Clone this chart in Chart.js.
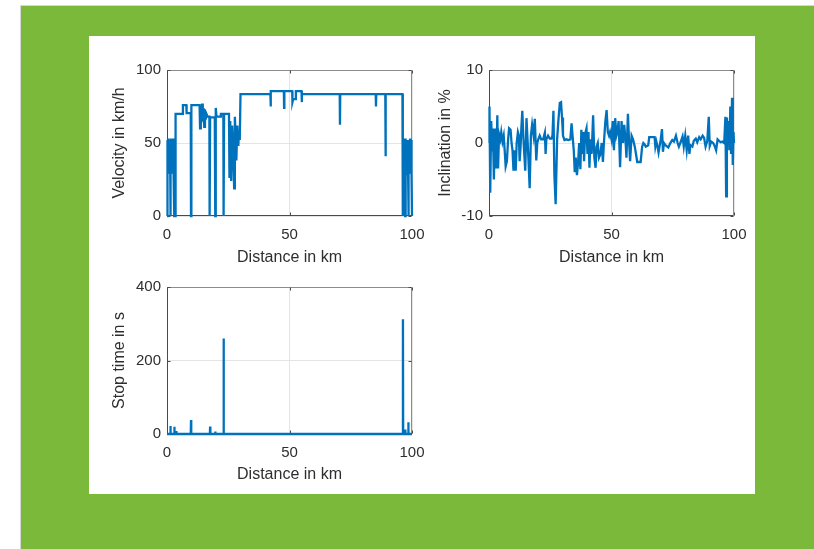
<!DOCTYPE html>
<html>
<head>
<meta charset="utf-8">
<script src="https://cdn.jsdelivr.net/npm/chart.js@4.4.1/dist/chart.umd.min.js"></script>
<style>
  html, body { margin: 0; padding: 0; background: #fff; }
  #frame { position: absolute; left: 20px; top: 5px; width: 794px; height: 544px; background: #7bb93a;
           border-top: 1px solid #d6d6d6; border-left: 1px solid #d6d6d6; box-sizing: border-box; }
  #sheet { position: absolute; left: 89px; top: 36px; width: 666px; height: 458px; background: #fff; }
  canvas { position: absolute; }
</style>
</head>
<body>
<div id="frame"></div>
<div id="sheet"></div>
<canvas id="velocity" style="left:100px;top:60px" width="326" height="222"></canvas>
<canvas id="inclination" style="left:420px;top:60px" width="330" height="222"></canvas>
<canvas id="stops" style="left:100px;top:277px" width="326" height="222"></canvas>
<script>
// axis ticks
const distanceTicks = [0, 50, 100];
const velocityTicks = [0, 50, 100];
const inclinationTicks = [-10, 0, 10];
const stopTicks = [0, 200, 400];

// velocity profile along the route
const velocityKm = [0, 0.05, 0.15, 0.25, 0.35, 0.45, 0.55, 0.65, 0.75, 0.85, 0.95, 1.05, 1.15, 1.25, 1.35,
  1.45, 1.55, 1.65, 1.75, 1.85, 1.95, 2.05, 2.15, 2.25, 2.35, 2.45, 2.55, 2.65, 2.8, 2.95, 3.05, 3.15, 3.25,
  3.4, 3.5,
  6.4, 6.5, 7.9, 8.0, 9.7, 9.8, 9.95, 13.3, 13.5, 13.8, 14.0, 14.3, 14.6, 14.9, 15.2, 15.5, 15.8, 16.1, 16.6,
  17.3, 17.4, 17.6, 19.5, 19.7, 19.9, 20.2, 21.8, 22.0, 23.0, 23.1, 23.3, 25.3, 25.5, 25.8, 26.2, 26.6, 27.0,
  27.4, 27.7, 28.0, 28.3, 28.7, 29.1, 29.4, 29.7, 30.0, 42.2, 42.3, 42.4, 47.7, 47.8, 47.9, 51.1, 51.2, 51.5,
  52.4, 52.6, 54.9, 55.0, 55.1, 70.5, 70.6, 70.7, 85.2, 85.3, 85.4, 89.1, 89.2, 89.3, 96.1,
  96.2, 96.3, 96.4, 96.5, 96.6, 96.7, 96.8, 96.9, 97.0, 97.1, 97.2, 97.3, 97.4, 97.5, 97.6, 97.7, 97.8,
  97.9, 98.0, 98.1, 98.2, 98.3, 98.4, 98.5, 98.6, 98.7, 98.8, 98.9, 99.0, 99.1, 99.2, 99.3, 99.4, 99.5,
  99.6, 99.7, 99.8, 99.9, 100];
const velocityKmh = [0, 48, 30, 52, 28, 50, 31, 53, 29, 51, 33, 52, 30, 50, 0,
  48, 31, 53, 30, 51, 34, 52, 29, 50, 32, 53, 30, 49, 31, 0, 50, 30, 52,
  0, 70,
  70, 76, 76, 70.5, 70.5, 0, 76, 76, 60, 75, 64, 77, 65, 74, 61, 73, 66, 70, 68,
  68, 0, 67.5, 67.5, 0, 74, 68, 68, 70, 70, 0, 70, 70, 26, 65, 24, 62, 48,
  19, 68, 55, 38, 62, 48, 58, 52, 83.5, 83.5, 75, 85.5, 85.5, 74, 85.5, 85.5, 78, 80,
  80, 85.5, 85.5, 78, 83.5, 83.5, 62.5, 83.5, 83.5, 75, 83.5, 83.5, 41, 83.5, 83.5,
  0, 52, 30, 53, 28, 50, 32, 52, 30, 48, 0, 50, 29, 53, 31, 51, 28,
  52, 33, 50, 30, 52, 31, 0, 48, 30, 52, 29, 50, 33, 53, 30, 49, 31,
  52, 29, 47, 30, 0];

// road inclination
const inclinationKm = [0, 0.2, 0.5, 0.9, 1.3, 1.6, 2.0, 2.4, 2.8, 3.2, 3.4, 3.7, 4.1, 4.6, 5.0, 5.5, 6.0, 6.4,
  6.8, 7.3, 7.8, 8.2, 8.8, 9.2, 9.6, 10.0, 10.5, 10.9, 11.3, 11.8, 12.2, 12.5, 12.9, 13.2, 13.6, 14.0, 14.4,
  14.8, 15.3, 15.8, 16.2, 16.6, 17.1, 17.6, 18.2, 18.7, 19.3, 19.7, 20.1, 20.7, 21.3, 22.1, 22.8, 23.1, 23.4,
  24.1, 24.8, 25.5, 25.9, 26.3, 26.7, 27.2, 27.8, 28.3, 28.9, 29.4, 29.8, 30.2, 30.8, 31.6, 32.4, 33.2, 33.7,
  34.1, 34.6, 35.0, 35.4, 35.9, 36.4, 36.8, 37.3, 37.7, 38.1, 38.5, 38.8, 39.2, 39.8, 40.2, 40.6, 41.0, 41.4,
  41.9, 42.5, 43.0, 43.5, 43.9, 44.4, 44.9, 45.5, 46.0, 46.5, 46.9, 47.5, 48.0, 48.5, 49.0, 49.4, 50.0, 50.5,
  51.0, 51.5, 52.0, 52.4, 52.9, 53.5, 54.1, 54.7, 55.2, 55.7, 56.1, 56.7, 57.2, 57.6, 58.2, 58.8, 59.5, 60.0,
  60.5, 61.9, 62.5, 63.0, 63.5, 64.0, 65.0, 65.4, 67.6, 67.9, 68.3, 68.8, 69.2, 69.6, 70.1, 70.6, 71.0, 71.4,
  72.0, 73.2, 74.0, 74.8, 75.5, 76.3, 77.0, 77.5, 78.2, 79.0, 79.5, 80.1, 80.7, 81.3, 81.8, 82.2, 83.0, 83.6,
  84.4, 85.0, 85.8, 86.4, 87.2, 87.8, 88.4, 89.1, 89.7, 90.1, 90.7, 91.5, 92.1, 92.7, 93.3, 93.9, 94.6, 95.3,
  96.0, 96.5, 96.8, 97.1, 97.4, 97.8, 98.1, 98.5, 98.8, 99.2, 99.5, 99.8, 100];
const inclinationPct = [0, 5, -6.8, 3, -1, 2, -5, 2, -3.5, 0.5, 3.8, -3.5, 1.2, 0.5, 1.5, 0.2, 1, -1,
  -3.2, -2.5, 0.5, 2, 1.8, 0, -1, -3.8, -1, -3.8, 0, 1.5, 1, -2.5, -0.5, 2, 4.4, 1, -1.5,
  -3.8, 3.4, 0, -3, -6.2, 1, 2.5, 1, 3.3, -2.4, 0, 0.5, 1, 0.5, 0.5, 1.4, -1.5, 0.5,
  1, 0.6, 0.6, 1, 4.4, -4.5, -8.4, 0.5, 3, 5.5, 5.6, 3.5, 1, 0.4, 0.5, 0.4, 0.5, 2.7,
  1, -1, -4, -2, -4.4, -2.5, 0, -3.6, 1.8, -1.5, 1.5, -2.5, 1.2, 2, -1.5, 1.5, -3.4, 0.5,
  -1.5, 3.8, -2, -3.4, -0.5, 0, -2, -1.5, 0, -2.6, 0, 3, 4.5, 1.5, 1, 1.5, 0.5, 3,
  -1, 3.4, 1, 1.5, 3, -3.3, 3, 0, 2.5, 0.5, -2, 4, 0, -2.5, 1, 0.5, -0.5, -1.5,
  -2.6, -2.6, -0.5, 0, -0.2, -0.5, -0.3, 0.8, 0.8, -0.5, 0.2, -0.5, -1.3, -0.5, 0.5, 1.9, -1.2, 0,
  -0.3, -0.6, 0, 0.4, 0.2, 1, 0, -0.5, 0.1, 0.9, -0.5, 1, -1, 1, -1.5, -0.3, -0.5, 0.3,
  0.6, 0.1, 0.8, 0.5, 1, 0.7, -0.5, 0.3, 3.6, -0.4, 0.2, 0, -0.4, -1, 0.5, 0.3, 0.1, 0.2,
  0, 3.6, -7.3, 3.5, 0, 3, -1, 5, -1.5, 6.2, -3, 1.5, 0];

// stop durations
const stopKm = [0, 1.3, 1.4, 1.5, 2.9, 3.0, 3.1, 3.7, 3.8, 3.9, 9.7, 9.8, 9.9, 17.5, 17.6, 17.7, 19.6, 19.7, 19.8,
  23.0, 23.1, 23.2, 96.2, 96.3, 96.4, 97.1, 97.2, 97.3, 98.4, 98.5, 98.6, 100];
const stopSec = [0, 0, 22, 0, 0, 20, 0, 0, 8, 0, 0, 38, 0, 0, 20, 0, 0, 7, 0,
  0, 260, 0, 0, 312, 0, 0, 12, 0, 0, 32, 0, 0];

const BLUE = '#0072bd';
const TEXT = '#2e2e2e';
const GRID = '#e4e4e4';
const FAMILY = '"Liberation Sans", Arial, Helvetica, sans-serif';
const tickFont = { family: FAMILY, size: 15 };
const titleFont = { family: FAMILY, size: 16 };

// box around the axes with short inward tick marks on all four sides
const axesBox = {
  id: 'axesBox',
  beforeDatasetsDraw(chart) {
    const { ctx, chartArea: a, scales: { x, y } } = chart;
    const L = Math.round(a.left) + 0.5, R = Math.round(a.right) - 0.5;
    const T = Math.round(a.top) + 0.5, B = Math.round(a.bottom) - 0.5;
    const len = 3;
    const seg = (x1, y1, x2, y2) => { ctx.beginPath(); ctx.moveTo(x1, y1); ctx.lineTo(x2, y2); ctx.stroke(); };
    ctx.save();
    ctx.lineWidth = 1;
    ctx.strokeStyle = '#8c8c8c';
    seg(L, T, R, T);
    seg(R, T, R, B);
    ctx.strokeStyle = '#4a4a4a';
    seg(L, T, L, B);
    seg(L, B, R, B);
    x.ticks.forEach(t => {
      const px = Math.round(x.getPixelForValue(t.value)) + 0.5;
      seg(px, B, px, B - len);
      seg(px, T, px, T + len);
    });
    y.ticks.forEach(t => {
      const py = Math.round(y.getPixelForValue(t.value)) + 0.5;
      seg(L, py, L + len, py);
      seg(R, py, R - len, py);
    });
    ctx.restore();
  }
};

function makePlot(id, opts) {
  const canvas = document.getElementById(id);
  const W = canvas.width, H = canvas.height;
  const area = opts.area;
  return new Chart(canvas, {
    type: 'line',
    data: {
      datasets: [{
        data: opts.xs.map((x, i) => ({ x: x, y: opts.ys[i] })),
        borderColor: BLUE,
        borderWidth: 2.3,
        pointRadius: 0,
        tension: 0,
        fill: false,
        clip: false
      }]
    },
    options: {
      responsive: false,
      animation: false,
      events: [],
      layout: { padding: { top: area.t, right: W - area.r, left: 0, bottom: 0 } },
      plugins: { legend: { display: false }, tooltip: { enabled: false } },
      scales: {
        x: {
          type: 'linear', min: 0, max: 100,
          afterBuildTicks: s => { s.ticks = distanceTicks.map(v => ({ value: v })); },
          afterFit: s => { s.height = H - area.b; s.paddingLeft = 0; s.paddingRight = 0; },
          grid: { color: GRID, drawTicks: false },
          border: { display: false },
          ticks: { font: tickFont, color: TEXT, padding: 10, maxRotation: 0, autoSkip: false },
          title: { display: true, text: 'Distance in km', font: titleFont, color: TEXT,
                   padding: { top: 0, bottom: opts.xTitlePad } }
        },
        y: {
          min: opts.yTicks[0], max: opts.yTicks[opts.yTicks.length - 1],
          afterBuildTicks: s => { s.ticks = opts.yTicks.map(v => ({ value: v })); },
          afterFit: s => { s.width = area.l; s.paddingTop = 0; s.paddingBottom = 0; },
          grid: { color: GRID, drawTicks: false },
          border: { display: false },
          ticks: { font: tickFont, color: TEXT, padding: 6, autoSkip: false },
          title: { display: true, text: opts.yTitle, font: titleFont, color: TEXT,
                   padding: { top: opts.yTitlePad, bottom: 0 } }
        }
      }
    },
    plugins: [axesBox]
  });
}

makePlot('velocity', {
  xs: velocityKm, ys: velocityKmh, yTicks: velocityTicks, yTitle: 'Velocity in km/h',
  area: { l: 67, t: 10, r: 312, b: 156 }, xTitlePad: 15, yTitlePad: 10
});
makePlot('inclination', {
  xs: inclinationKm, ys: inclinationPct, yTicks: inclinationTicks, yTitle: 'Inclination in %',
  area: { l: 69, t: 10, r: 314, b: 156 }, xTitlePad: 15, yTitlePad: 16
});
makePlot('stops', {
  xs: stopKm, ys: stopSec, yTicks: stopTicks, yTitle: 'Stop time in s',
  area: { l: 67, t: 10, r: 312, b: 157 }, xTitlePad: 15, yTitlePad: 10
});
</script>
</body>
</html>
